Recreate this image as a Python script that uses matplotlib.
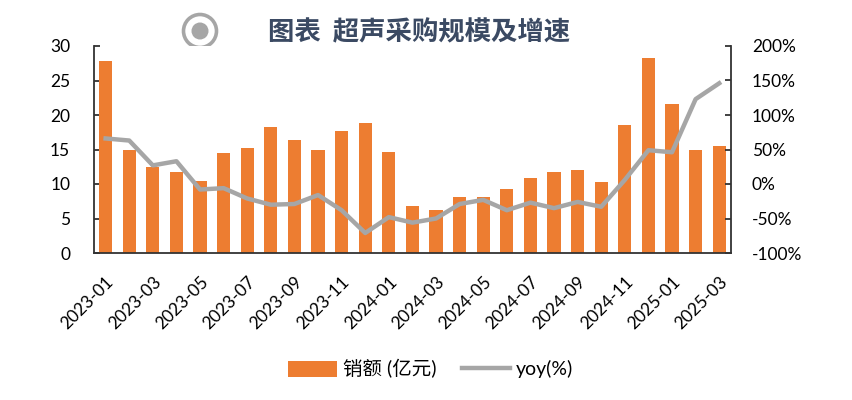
import matplotlib
matplotlib.use("Agg")
import matplotlib.pyplot as plt
from matplotlib.patches import Circle
import numpy as np

plt.rcParams['font.family'] = ['Lato', 'Noto Sans CJK SC', 'DejaVu Sans']

## --data
months = ['2023-01', '2023-02', '2023-03', '2023-04', '2023-05', '2023-06', '2023-07',
          '2023-08', '2023-09', '2023-10', '2023-11', '2023-12', '2024-01', '2024-02',
          '2024-03', '2024-04', '2024-05', '2024-06', '2024-07', '2024-08', '2024-09',
          '2024-10', '2024-11', '2024-12', '2025-01', '2025-02', '2025-03']
sales = [27.8, 15.0, 12.5, 11.8, 10.5, 14.5, 15.2, 18.2, 16.4, 15.0, 17.7, 18.9, 14.7, 6.8,
         6.3, 8.1, 8.1, 9.3, 10.8, 11.8, 12.0, 10.3, 18.6, 28.2, 21.6, 14.9, 15.5]
yoy = [66, 63, 27, 33, -8, -6, -21, -30, -29, -16, -38, -71, -48, -56,
       -50, -29, -23, -38, -27, -35, -26, -33, 6, 49, 46, 123, 146]

bar_color = '#ED7D31'
line_color = '#A6A6A6'

fig = plt.figure(figsize=(8.53, 4), dpi=100)
ax = fig.add_axes([0.110, 0.3675, 0.747, 0.5175])
x = np.arange(len(months))

b = ax.bar(x, sales, width=0.56, color=bar_color, label='销额 (亿元)', zorder=2)
ax.set_xlim(-0.5, len(months) - 0.5)
ax.set_ylim(0, 30)
ax.set_yticks(range(0, 31, 5))

ax2 = ax.twinx()
l, = ax2.plot(x, yoy, color=line_color, lw=3.2, label='yoy(%)', zorder=3)
ax2.set_ylim(-100, 200)
ax2.set_yticks(range(-100, 201, 50))
ax2.set_yticklabels([f'{v}%' for v in range(-100, 201, 50)])

for a in (ax, ax2):
    a.spines['top'].set_visible(False)
    for s in a.spines.values():
        s.set_color('#333333')
        s.set_linewidth(1.3)
    a.tick_params(axis='y', labelsize=12.5, length=4, width=1.3, colors='#333333',
                  labelcolor='black', direction='in')
ax.tick_params(axis='y', pad=17)
ax2.tick_params(axis='y', pad=15)
ax.spines['right'].set_visible(False)
ax2.spines['left'].set_visible(False)
ax2.spines['bottom'].set_visible(False)

ax.set_xticks(x[::2])
ax.set_xticklabels(months[::2], rotation=45, ha='right', rotation_mode='anchor', fontsize=12.5)
ax.tick_params(axis='x', length=0, pad=15)

# title with icon
deco = fig.add_axes([0, 0, 1, 1], zorder=-1)
deco.set_xlim(0, 853)
deco.set_ylim(400, 0)
deco.axis('off')
deco.add_patch(Circle((200, 31), 16.5, facecolor='none', edgecolor='#A6A6A6', lw=2.6))
deco.add_patch(Circle((200, 31), 8.5, facecolor='#A6A6A6', edgecolor='none'))

fig.text(0.491, 0.917, '图表  超声采购规模及增速', fontsize=19, fontweight='bold',
         color='#3B4A63', ha='center', va='center',
         family=['Noto Sans CJK SC', 'DejaVu Sans'])

fig.legend([b, l], ['销额 (亿元)', 'yoy(%)'], loc='center', bbox_to_anchor=(0.505, 0.078),
           ncol=2, frameon=False, fontsize=14, handlelength=2.5, handleheight=0.9,
           columnspacing=1.3, handletextpad=0.3)

plt.savefig("out.png", dpi=100)
